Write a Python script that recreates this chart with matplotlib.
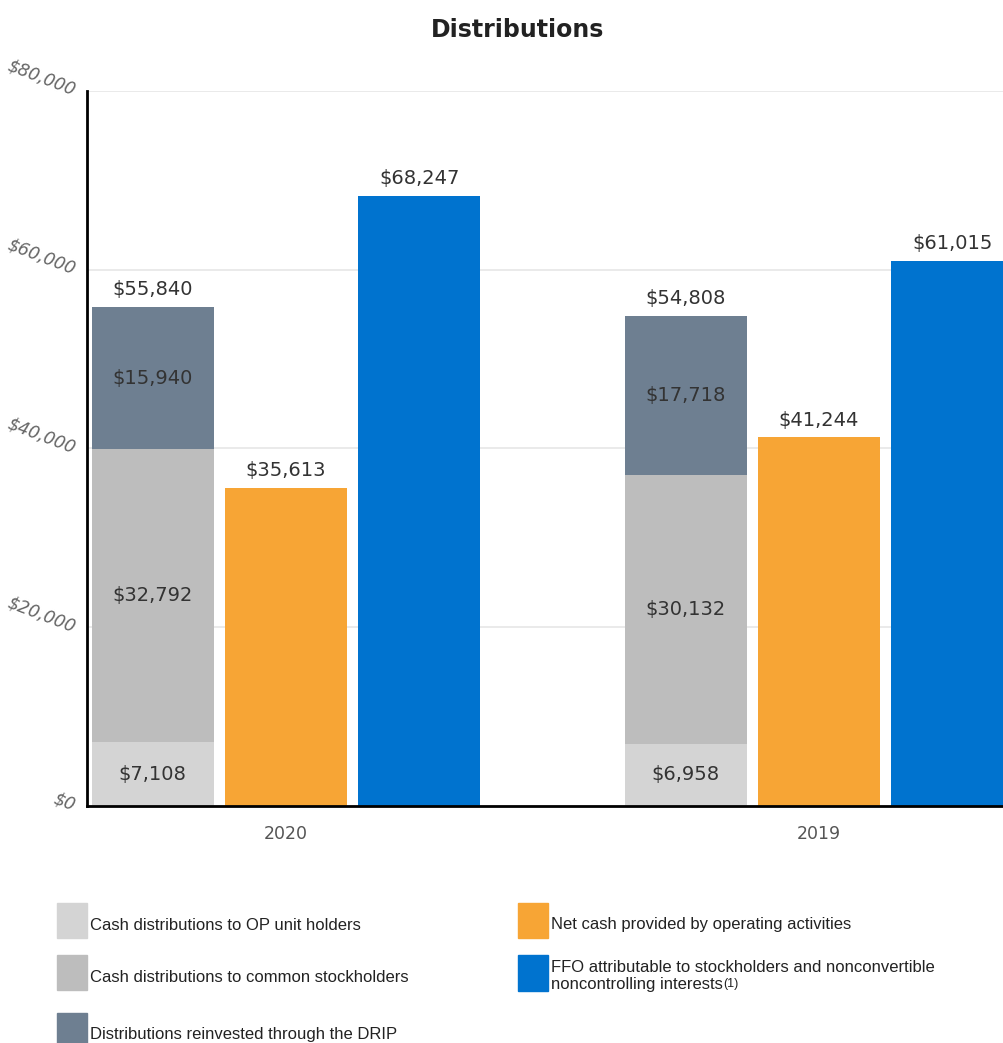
import matplotlib
matplotlib.use("Agg")
import matplotlib.pyplot as plt
from matplotlib.patches import Rectangle
import numpy as np

categories = ["2020", "2019"]
op_unit = [7108, 6958]
common = [32792, 30132]
drip = [15940, 17718]
net_cash = [35613, 41244]
ffo = [68247, 61015]
y_ticks = [0, 20000, 40000, 60000, 80000]
y_tick_labels = ["$0", "$20,000", "$40,000", "$60,000", "$80,000"]

legend_labels = [
    "Cash distributions to OP unit holders",
    "Cash distributions to common stockholders",
    "Distributions reinvested through the DRIP",
    "Net cash provided by operating activities",
    "FFO attributable to stockholders and nonconvertible\nnoncontrolling interests",
]

c_op = "#d4d4d4"
c_common = "#bdbdbd"
c_drip = "#6e7f91"
c_net = "#f7a535"
c_ffo = "#0073cf"

W, H = 1004, 1043
fig = plt.figure(figsize=(W / 100, H / 100), dpi=100)
ax = fig.add_axes([87 / W, (H - 806) / H, (W - 87) / W, 715 / H])

x = np.arange(len(categories))
bw = 0.229
off = 0.25

op_arr = np.array(op_unit)
com_arr = np.array(common)
drip_arr = np.array(drip)

b1 = ax.bar(x - off, op_arr, bw, color=c_op, zorder=3)
b2 = ax.bar(x - off, com_arr, bw, bottom=op_arr, color=c_common, zorder=3)
b3 = ax.bar(x - off, drip_arr, bw, bottom=op_arr + com_arr, color=c_drip, zorder=3)
b4 = ax.bar(x, net_cash, bw, color=c_net, zorder=3)
b5 = ax.bar(x + off, ffo, bw, color=c_ffo, zorder=3)

lab_kw = dict(fontsize=14, color="#333333", family="DejaVu Sans")

def fmt(v):
    return "${:,}".format(int(v))

for bars in (b1, b2, b3):
    ax.bar_label(bars, labels=[fmt(v) for v in bars.datavalues], label_type="center", **lab_kw)

totals = op_arr + com_arr + drip_arr
for xs, vals in ((x - off, totals), (x, net_cash), (x + off, ffo)):
    for xi, t in zip(xs, vals):
        ax.annotate(fmt(t), (xi, t), xytext=(0, 12.5), textcoords="offset points",
                    ha="center", va="center", **lab_kw)

ax.set_ylim(0, 80000)
ax.set_xlim((87 - 286) / 533, (1004 - 286) / 533)
ax.set_yticks(y_ticks)
ax.set_yticklabels(y_tick_labels, rotation=-21, rotation_mode="anchor",
                   ha="right", va="center", fontsize=12.5, color="#666666",
                   style="italic")
ax.set_xticks(x)
ax.set_xticklabels(categories, fontsize=12.5, color="#555555")
ax.tick_params(axis="both", length=0)
ax.tick_params(axis="y", pad=9)
ax.tick_params(axis="x", pad=14)
ax.grid(axis="y", color="#e6e6e6", linewidth=1.2, zorder=0)
ax.set_axisbelow(True)
for s in ("top", "right"):
    ax.spines[s].set_visible(False)
ax.spines["left"].set_linewidth(2)
ax.spines["bottom"].set_linewidth(2)
ax.spines["left"].set_zorder(5)
ax.spines["bottom"].set_zorder(5)

fig.text(518 / W, 1 - 30 / H, "Distributions", ha="center", va="center",
         fontsize=17, fontweight="bold", color="#222222", family="DejaVu Sans")

# legend
def fx(px):
    return px / W

def fy(py):
    return 1 - py / H

leg_fs = 12
leg_items = [
    (57, 903, c_op, legend_labels[0], 925),
    (57, 955, c_common, legend_labels[1], 977),
    (57, 1013, c_drip, legend_labels[2], 1034),
    (518, 903, c_net, legend_labels[3], 925),
]
for lx, ly, col, txt, ty in leg_items:
    fig.add_artist(Rectangle((fx(lx), fy(ly + 35)), 30 / W, 35 / H,
                             transform=fig.transFigure, color=col))
    fig.text(fx(lx + 33), fy(ty), txt, ha="left", va="center", fontsize=leg_fs,
             color="#222222", family="Liberation Sans")

fig.add_artist(Rectangle((fx(518), fy(955 + 36)), 30 / W, 36 / H,
                         transform=fig.transFigure, color=c_ffo))
l1, l2 = legend_labels[4].split("\n")
fig.text(fx(551), fy(967), l1, ha="left", va="center", fontsize=leg_fs,
         color="#222222", family="Liberation Sans")
t2 = fig.text(fx(551), fy(984), l2, ha="left", va="center", fontsize=leg_fs,
              color="#222222", family="Liberation Sans")
fig.add_artist(matplotlib.text.Annotation("(1)", xy=(1, 0.12), xycoords=t2,
                                          ha="left", va="bottom", fontsize=9,
                                          color="#222222", family="Liberation Sans"))

fig.savefig("out.png", dpi=100)
